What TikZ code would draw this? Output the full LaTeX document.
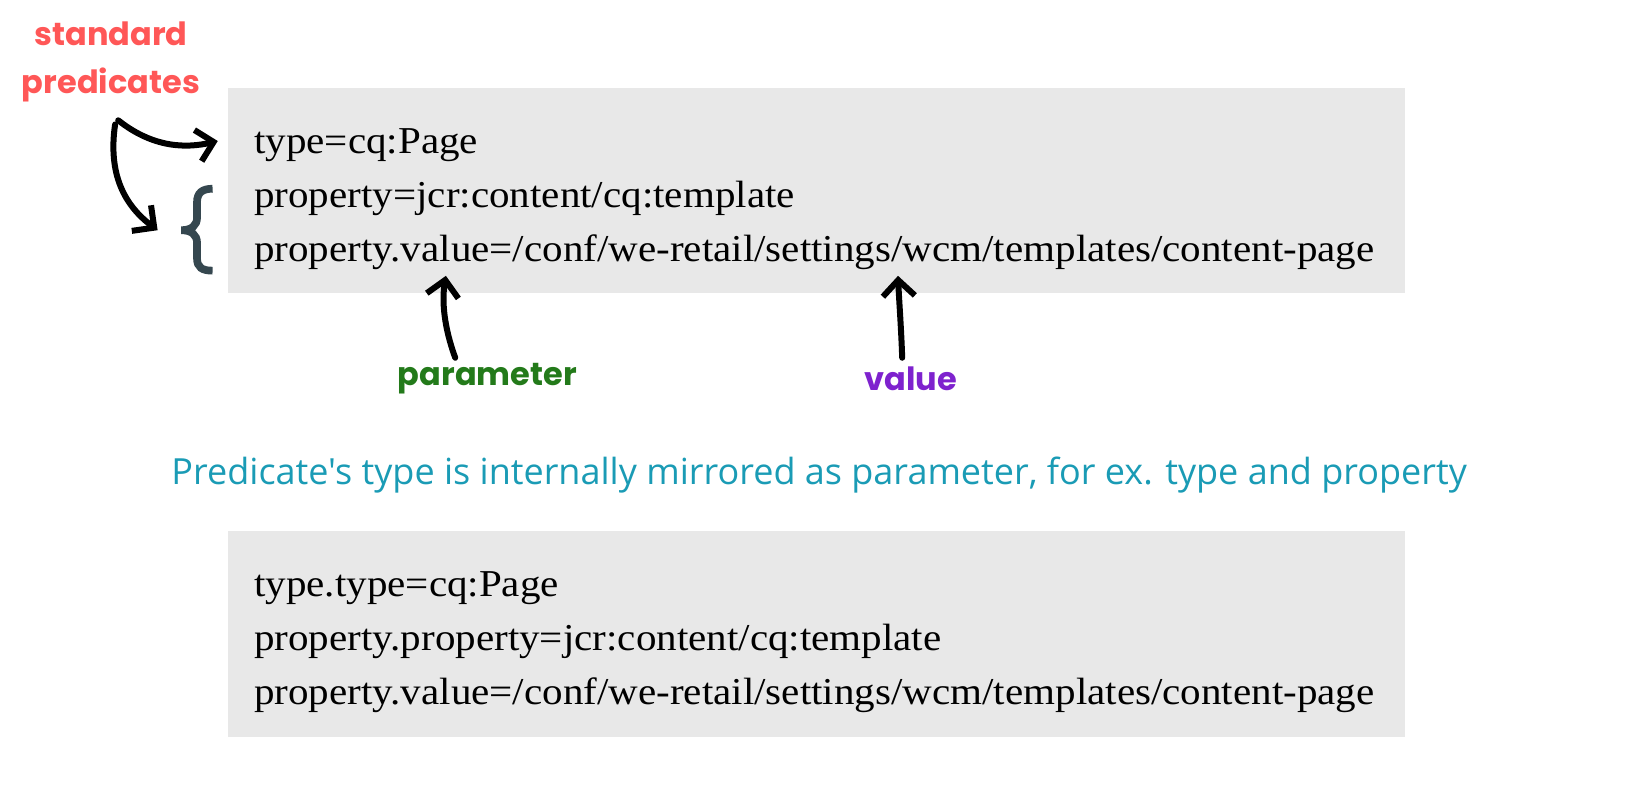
\documentclass[tikz,border=0pt]{standalone}
\usepackage{fontspec}
\setmainfont{Liberation Serif}[FakeStretch=1.08]
\newfontfamily\labfont{Poppins}
\newfontfamily\notefont{Open Sans}
\usetikzlibrary{arrows.meta}
\definecolor{boxgray}{HTML}{E8E8E8}
\definecolor{lred}{HTML}{FF5757}
\definecolor{lgreen}{HTML}{237A1A}
\definecolor{lpurple}{HTML}{7E22CE}
\definecolor{lteal}{HTML}{1A9BB5}
\definecolor{bracec}{HTML}{35474F}
\tikzset{
  codebox/.style={fill=boxgray, draw=none},
  codeline/.style={anchor=base west, inner sep=0pt, font=\fontsize{38}{44}\selectfont},
  lab/.style={inner sep=0pt, font=\labfont\bfseries\fontsize{32}{48}\selectfont, align=center},
  hand/.style={line width=6pt, line cap=round, -{Straight Barb[length=16pt,width=32pt,line width=6pt]}},
}
\begin{document}
\begin{tikzpicture}[x=1.037pt,y=-1.037pt]
\useasboundingbox (0,0) rectangle (1568,777);
% boxes
\fill[codebox] (220,85) rectangle (1355,283);
\fill[codebox] (220,512) rectangle (1355,711);
% top code
\node[codeline] (t1) at (245,148) {type=cq:Page};
\node[codeline] (t2) at (245,200) {property=jcr:content/cq:template};
\node[codeline] (t3) at (245,252) {property.value=/conf/we-retail/settings/wcm/templates/content-page};
% bottom code
\node[codeline] (b1) at (245,575) {type.type=cq:Page};
\node[codeline] (b2) at (245,627) {property.property=jcr:content/cq:template};
\node[codeline] (b3) at (245,679) {property.value=/conf/we-retail/settings/wcm/templates/content-page};
% labels
\node[lab, text=lred] (std) at (107,60) {standard\\predicates};
\node[lab, text=lgreen] (par) at (470,365) {parameter};
\node[lab, text=lpurple] (val) at (878,365) {value};
\node[inner sep=0pt, text=lteal, font=\notefont\fontsize{36}{42}\selectfont] (note) at (790,458)
  {Predicate's type is internally mirrored as parameter, for ex. type and property};
% brace
\node[inner sep=0pt, minimum width=32pt, minimum height=82pt] (br) at (190,222) {};
\draw[bracec, line width=7.7pt] (205,182) .. controls (195,182) and (190,186) .. (190,195)
  -- (190,210) .. controls (190,217) and (185,222) .. (175,222)
  .. controls (185,222) and (190,227) .. (190,234) -- (190,249)
  .. controls (190,258) and (195,261) .. (205,261);
% arrows
\coordinate (s1) at (114,116);
\coordinate (s2) at (111,120);
\coordinate (tp) at (210,136);
\coordinate (bp) at (152,222);
\draw[hand] (s1) .. controls (148,143) and (180,143) .. (tp);
\draw[hand] (s2) .. controls (104,168) and (120,198) .. (bp);
\coordinate (pp) at (430,266);
\coordinate (vp) at (866,266);
\draw[hand] (439,345) .. controls (428,315) and (426,290) .. (pp);
\draw[hand] (870,345) .. controls (869,315) and (867,290) .. (vp);
\end{tikzpicture}
\end{document}
